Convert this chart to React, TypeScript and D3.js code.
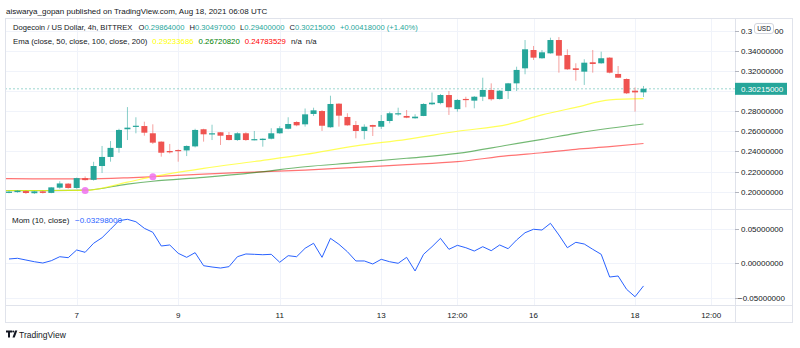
import React from "react";
import * as d3 from "d3";

// ---------- DATA ----------
const startTime = Date.UTC(2021, 7, 5, 16, 0); // first visible 4h candle (index 1)
const candleOpen = [
  0.1993, 0.1996, 0.2006, 0.1985, 0.2003, 0.1988, 0.2040, 0.2080, 0.2037, 0.2135,
  0.2118, 0.2255, 0.2345, 0.2435, 0.2620, 0.2645, 0.2652, 0.2580, 0.2497, 0.2404,
  0.2414, 0.2410, 0.2450, 0.2620, 0.2575, 0.2590, 0.2563, 0.2513, 0.2580, 0.2515,
  0.2513, 0.2526, 0.2580, 0.2625, 0.2692, 0.2669, 0.2772, 0.2801, 0.2640, 0.2874,
  0.2742, 0.2662, 0.2603, 0.2662, 0.2645, 0.2702, 0.2769, 0.2752, 0.2729, 0.2752,
  0.2868, 0.2880, 0.2960, 0.2820, 0.2921, 0.2904, 0.2943, 0.3010, 0.2920, 0.3000,
  0.3076, 0.3225, 0.3407, 0.3325, 0.3374, 0.3506, 0.3357, 0.3225, 0.3192, 0.3285,
  0.3275, 0.3331, 0.3169, 0.3119, 0.3003, 0.29864,
];
const candleHigh = [
  0.2010, 0.2015, 0.2012, 0.2008, 0.2010, 0.2045, 0.2104, 0.2085, 0.2140, 0.2152,
  0.2297, 0.2454, 0.2503, 0.2625, 0.2840, 0.2739, 0.2695, 0.2669, 0.2500, 0.2474,
  0.2420, 0.2460, 0.2625, 0.2625, 0.2665, 0.2592, 0.2593, 0.2590, 0.2590, 0.2603,
  0.2530, 0.2630, 0.2650, 0.2739, 0.2700, 0.2826, 0.2834, 0.2810, 0.2953, 0.2878,
  0.2779, 0.2702, 0.2669, 0.2665, 0.2762, 0.2794, 0.2834, 0.2811, 0.2769, 0.2878,
  0.2985, 0.2970, 0.3000, 0.2920, 0.2943, 0.2950, 0.3132, 0.3076, 0.3010, 0.3080,
  0.3241, 0.3506, 0.3447, 0.3407, 0.3529, 0.3535, 0.3414, 0.3275, 0.3315, 0.3407,
  0.3390, 0.3335, 0.3248, 0.3125, 0.3035, 0.30497,
];
const candleLow = [
  0.1985, 0.1990, 0.1978, 0.1978, 0.1982, 0.1985, 0.2030, 0.2030, 0.2030, 0.2110,
  0.2110, 0.2186, 0.2298, 0.2387, 0.2513, 0.2580, 0.2556, 0.2474, 0.2348, 0.2380,
  0.2298, 0.2354, 0.2440, 0.2497, 0.2513, 0.2464, 0.2510, 0.2505, 0.2505, 0.2510,
  0.2447, 0.2520, 0.2575, 0.2620, 0.2650, 0.2646, 0.2752, 0.2603, 0.2635, 0.2646,
  0.2655, 0.2530, 0.2520, 0.2553, 0.2623, 0.2679, 0.2755, 0.2730, 0.2725, 0.2750,
  0.2860, 0.2868, 0.2762, 0.2794, 0.2838, 0.2828, 0.2900, 0.2904, 0.2915, 0.2921,
  0.3000, 0.3166, 0.3308, 0.3320, 0.3370, 0.3182, 0.3210, 0.3102, 0.3060, 0.3182,
  0.3270, 0.3175, 0.3130, 0.2970, 0.2795, 0.29400,
];
const candleClose = [
  0.2000, 0.2010, 0.1987, 0.2003, 0.1988, 0.2043, 0.2082, 0.2037, 0.2135, 0.2115,
  0.2255, 0.2345, 0.2435, 0.2613, 0.2636, 0.2655, 0.2586, 0.2487, 0.2387, 0.2391,
  0.2404, 0.2454, 0.2613, 0.2570, 0.2580, 0.2556, 0.2513, 0.2580, 0.2513, 0.2522,
  0.2526, 0.2580, 0.2630, 0.2672, 0.2659, 0.2768, 0.2808, 0.2655, 0.2871, 0.2755,
  0.2659, 0.2603, 0.2645, 0.2645, 0.2702, 0.2779, 0.2779, 0.2735, 0.2745, 0.2871,
  0.2884, 0.2960, 0.2838, 0.2911, 0.2911, 0.2943, 0.3010, 0.2918, 0.3003, 0.3076,
  0.3209, 0.3414, 0.3331, 0.3384, 0.3506, 0.3351, 0.3215, 0.3209, 0.3281, 0.3268,
  0.3325, 0.3182, 0.3132, 0.2977, 0.2986, 0.30215,
];
const momValues = [
  0.0063, 0.0073, 0.0048, 0.0023, 0.0004, 0.0038, 0.0096, 0.0082, 0.0194, 0.0160,
  0.0292, 0.0373, 0.0496, 0.0621, 0.0641, 0.0606, 0.0510, 0.0452, 0.0252, 0.0267,
  0.0146, 0.0087, 0.0155, -0.0035, -0.0054, -0.0069, -0.0049, 0.0096, 0.0136, 0.0131,
  0.0125, 0.0131, 0.0015, 0.0111, 0.0096, 0.0219, 0.0292, 0.0087, 0.0364, 0.0277,
  0.0169, 0.0034, 0.0034, -0.0010, 0.0058, 0.0023, 0.0000, 0.0087, -0.0112, 0.0131,
  0.0242, 0.0364, 0.0204, 0.0262, 0.0227, 0.0179, 0.0242, 0.0184, 0.0267, 0.0213,
  0.0340, 0.0446, 0.0496, 0.0485, 0.0583, 0.0413, 0.0227, 0.0306, 0.0281, 0.0204,
  0.0131, -0.0200, -0.0185, -0.0379, -0.0487, -0.03298,
];
const emaIndex = [0, 1, 5, 10, 15, 18, 24, 30, 36, 42, 48, 54, 60, 64, 68, 72, 76];
const ema50 = [0.2012, 0.2012, 0.2012, 0.2013, 0.2095, 0.2149, 0.2232, 0.2300, 0.2370, 0.2455, 0.2520, 0.2600, 0.2669, 0.2762, 0.2838, 0.2911, 0.29233686];
const ema100 = [0.2010, 0.2010, 0.2011, 0.2015, 0.2075, 0.2104, 0.2143, 0.2190, 0.2248, 0.2288, 0.2332, 0.2381, 0.2464, 0.2520, 0.2580, 0.2630, 0.2672082];
const ema200 = [0.2130, 0.2129, 0.2128, 0.2127, 0.2138, 0.2149, 0.2175, 0.2195, 0.2215, 0.2242, 0.2268, 0.2298, 0.2358, 0.2387, 0.2421, 0.2447, 0.24783529];
const crossIndex = [10, 18];
const crossValue = [0.2013, 0.2149];
const priceTicks = [0.2, 0.22, 0.24, 0.26, 0.28, 0.3, 0.32, 0.34, 0.36];
const momTicks = [0.05, 0, -0.05];
const timeTickDates = [
  "2021-08-07T00:00Z", "2021-08-09T00:00Z", "2021-08-11T00:00Z", "2021-08-13T00:00Z",
  "2021-08-14T12:00Z", "2021-08-16T00:00Z", "2021-08-18T00:00Z", "2021-08-19T12:00Z",
];
const timeTickLabels = ["7", "9", "11", "13", "12:00", "16", "18", "12:00"];
const lastPrice = 0.30215;
const ohlcLabels = ["O", "H", "L", "C"];
const ohlcValues = ["0.29864000", "0.30497000", "0.29400000", "0.30215000"];
const changeText = "+0.00418000 (+1.40%)";
const emaLegendValues = ["0.29233686", "0.26720820", "0.24783529"];
const emaColors = ["#ffff00", "#008000", "#ff0000"];

// ---------- LAYOUT ----------
const L = 5, PR = 735, R = 793, TOP = 18, SEP = 209, BOT = 305, AXB = 323;
const FONT = "'Liberation Sans', Arial, sans-serif";
const UP = "#26a69a", DOWN = "#ef5350";
const TXT = "#131722";

const tAt = (k: number) => new Date(startTime + (k - 1) * 4 * 3600 * 1000);

export default function App() {
  const x = d3.scaleUtc().domain([tAt(1), tAt(76)]).range([9, 643.5]);
  const y = d3.scaleLinear().domain([0.2, 0.34]).range([191.7, 50.7]);
  const ym = d3.scaleLinear().domain([-0.05, 0.05]).range([297.6, 229]);

  const candles = candleOpen.map((o, i) => ({
    k: i + 1, o, h: candleHigh[i], l: candleLow[i], c: candleClose[i],
  }));

  const emaLine = (vals: number[]) =>
    d3.line<number>()
      .x((_, i) => x(tAt(emaIndex[i])))
      .y((v) => y(v))
      .curve(d3.curveMonotoneX)(vals) || "";

  const momLine =
    d3.line<number>()
      .x((_, i) => x(tAt(i + 1)))
      .y((v) => ym(v))(momValues) || "";

  const grid = "#f0f3fa";
  const border = "#e0e3eb";
  const lpY = y(lastPrice);
  const bw = 6;

  return (
    <svg width={800} height={348} style={{ display: "block", position: "absolute", left: 0, top: 0 }} fontFamily={FONT}>
      <rect x={0} y={0} width={800} height={348} fill="#fff" />
      <defs>
        <clipPath id="mainClip"><rect x={L} y={TOP} width={PR - L} height={SEP - TOP} /></clipPath>
        <clipPath id="momClip"><rect x={L} y={SEP} width={PR - L} height={BOT - SEP} /></clipPath>
      </defs>

      {/* header */}
      <text x={6} y={14} fontSize={8} fill={TXT}>aiswarya_gopan published on TradingView.com, Aug 18, 2021 06:08 UTC</text>

      {/* grid */}
      {priceTicks.map((p) => (
        <line key={"pg" + p} x1={L} x2={PR} y1={Math.round(y(p)) + 0.5} y2={Math.round(y(p)) + 0.5} stroke={grid} />
      ))}
      {momTicks.map((p) => (
        <line key={"mg" + p} x1={L} x2={PR} y1={Math.round(ym(p)) + 0.5} y2={Math.round(ym(p)) + 0.5} stroke={grid} />
      ))}
      {timeTickDates.map((d) => {
        const xx = Math.round(x(new Date(d))) + 0.5;
        return <line key={"vg" + d} x1={xx} x2={xx} y1={TOP} y2={BOT} stroke={grid} />;
      })}

      {/* main pane */}
      <g clipPath="url(#mainClip)">
        <line x1={L} x2={PR} y1={lpY} y2={lpY} stroke={UP} strokeOpacity={0.45} strokeDasharray="2,2" />
        <path d={emaLine(ema200)} fill="none" stroke="#ff0000" strokeOpacity={0.55} strokeWidth={1.2} />
        <path d={emaLine(ema100)} fill="none" stroke="#008000" strokeOpacity={0.55} strokeWidth={1.2} />
        <path d={emaLine(ema50)} fill="none" stroke="#ffff00" strokeOpacity={0.65} strokeWidth={1.2} />
        {crossIndex.map((k, i) => (
          <circle key={"cx" + k} cx={x(tAt(k))} cy={y(crossValue[i])} r={3.5} fill="#f06ef0" fillOpacity={0.85} />
        ))}
        {candles.map((d) => {
          const cx = x(tAt(d.k));
          const col = d.c >= d.o ? UP : DOWN;
          const top = y(Math.max(d.o, d.c));
          const bot = y(Math.min(d.o, d.c));
          return (
            <g key={"c" + d.k}>
              <line x1={cx} x2={cx} y1={y(d.h)} y2={y(d.l)} stroke={col} strokeOpacity={0.55} strokeWidth={1} />
              <rect x={cx - bw / 2} y={top} width={bw} height={Math.max(1.2, bot - top)} fill={col} />
            </g>
          );
        })}
      </g>

      {/* momentum pane */}
      <g clipPath="url(#momClip)">
        <path d={momLine} fill="none" stroke="#2962ff" strokeWidth={1} />
      </g>

      {/* legends */}
      <text x={13} y={30} fontSize={7.6} fill={TXT}>
        Dogecoin / US Dollar, 4h, BITTREX
        {ohlcLabels.map((lab, i) => (
          <React.Fragment key={"ohlc" + lab}>
            <tspan dx={i === 0 ? 6 : 5}>{lab}</tspan>
            <tspan fill={UP}>{ohlcValues[i]}</tspan>
          </React.Fragment>
        ))}
        <tspan dx={5} fill={UP}>{changeText}</tspan>
      </text>

      <text x={13} y={43.5} fontSize={7.8} fill={TXT}>
        Ema (close, 50, close, 100, close, 200)
        {emaLegendValues.map((v, i) => (
          <tspan key={"ev" + i} dx={5} fill={emaColors[i]}>{v}</tspan>
        ))}
        <tspan dx={5}>n/a</tspan>
        <tspan dx={4}>n/a</tspan>
      </text>

      <text x={12} y={223} fontSize={8} fill={TXT}>Mom (10, close)</text>
      <text x={75} y={223} fontSize={8} fill="#2962ff">−0.03298000</text>

      {/* frame */}
      <rect x={L + 0.5} y={TOP + 0.5} width={R - L - 1} height={AXB - TOP - 1} fill="none" stroke={border} />
      <line x1={L} x2={R} y1={SEP + 0.5} y2={SEP + 0.5} stroke={border} />
      <line x1={L} x2={R} y1={BOT + 0.5} y2={BOT + 0.5} stroke={border} />
      <line x1={PR + 0.5} x2={PR + 0.5} y1={TOP} y2={AXB} stroke={border} />

      {/* price axis */}
      {priceTicks.map((p) => {
        const label = p.toFixed(8);
        const yy = y(p) + 3;
        let content;
        if (Math.abs(p - 0.3) < 1e-9) content = null; // hidden by last-price label
        else if (Math.abs(p - 0.36) < 1e-9)
          content = (
            <>
              <text x={741} y={yy} fontSize={8} fill={TXT}>{label.slice(0, 3)}</text>
              <text x={774.5} y={yy} fontSize={8} fill={TXT}>{label.slice(8)}</text>
            </>
          );
        else content = <text x={741} y={yy} fontSize={8} fill={TXT}>{label}</text>;
        return (
          <g key={"pt" + p}>
            <line x1={PR} x2={PR + 4} y1={Math.round(y(p)) + 0.5} y2={Math.round(y(p)) + 0.5} stroke="#b2b5be" />
            {content}
          </g>
        );
      })}
      {momTicks.map((p) => (
        <g key={"mt" + p}>
          <line x1={PR} x2={PR + 4} y1={Math.round(ym(p)) + 0.5} y2={Math.round(ym(p)) + 0.5} stroke="#b2b5be" />
          <text x={p < 0 ? 738 : 741} y={ym(p) + 3} fontSize={8} fill={TXT}>{p < 0 ? "−" + Math.abs(p).toFixed(8) : p.toFixed(8)}</text>
        </g>
      ))}
      <rect x={PR} y={lpY - 6} width={52} height={12} fill={UP} />
      <text x={741} y={lpY + 3} fontSize={8} fill="#fff">{lastPrice.toFixed(8)}</text>

      <rect x={754.5} y={23.5} width={19} height={10} rx={2.5} fill="#fff" stroke="#d1d4dc" />
      <text x={764} y={31} fontSize={6.5} textAnchor="middle" fill={TXT}>USD</text>

      {/* time axis */}
      {timeTickDates.map((d, i) => (
        <text key={"tl" + d} x={x(new Date(d))} y={318} fontSize={8} textAnchor="middle" fill={TXT}>{timeTickLabels[i]}</text>
      ))}

      {/* logo */}
      <g fill={TXT}>
        <path d="M6 330.5h6v2h-2v5h-2v-5h-2z" />
        <circle cx={13.2} cy={331.5} r={1} />
        <path d="M15 330.5h2.3l-2.6 7h-2.2z" />
      </g>
      <text x={19} y={337.5} fontSize={8.5} fill={TXT}>TradingView</text>
    </svg>
  );
}
